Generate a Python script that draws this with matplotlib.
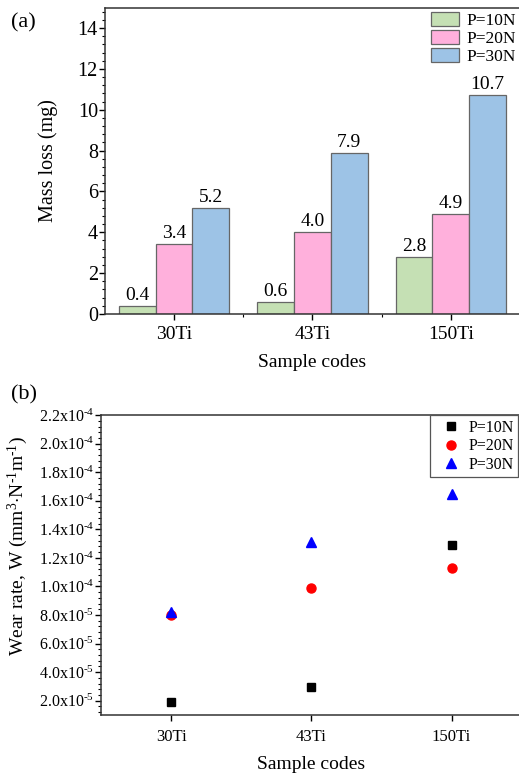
import numpy as np
import matplotlib
matplotlib.use('Agg')
import matplotlib.pyplot as plt
from matplotlib.ticker import AutoMinorLocator, FixedLocator, FuncFormatter

plt.rcParams['font.family'] = ['Liberation Serif', 'DejaVu Serif']
plt.rcParams['mathtext.fontset'] = 'custom'
plt.rcParams['mathtext.rm'] = 'Liberation Serif'
plt.rcParams['mathtext.it'] = 'Liberation Serif:italic'

# 数据
samples = ['30Ti', '43Ti', '150Ti']
loads = ['P=10N', 'P=20N', 'P=30N']
mass_10 = [0.4, 0.6, 2.8]
mass_20 = [3.4, 4.0, 4.9]
mass_30 = [5.2, 7.9, 10.7]
wear_10 = [1.88e-5, 2.97e-5, 1.29e-4]
wear_20 = [8.02e-5, 9.92e-5, 1.13e-4]
wear_30 = [8.20e-5, 1.31e-4, 1.65e-4]

bar_colors = ['#C5E0B4', '#FFB0DC', '#9DC3E6']
edge = '#666666'

fig = plt.figure(figsize=(5.19, 7.73), dpi=100)

# (a) 柱状图
ax1 = fig.add_axes([0.202, 0.594, 0.80, 0.396])
x = np.arange(1, len(samples) + 1)
w = 0.266
for i, (vals, c, lab) in enumerate(zip([mass_10, mass_20, mass_30], bar_colors, loads)):
    bars = ax1.bar(x + (i - 1) * w, vals, w, color=c, edgecolor=edge, linewidth=0.9, label=lab)
    for b, v in zip(bars, vals):
        ax1.text(b.get_x() + b.get_width() / 2, v + 0.1, f'{v:.1f}',
                 ha='center', va='bottom', fontsize=14)
ax1.set_xlim(0.5, 3.5)
ax1.set_ylim(0, 15)
ax1.set_xticks(x)
ax1.set_xticklabels(samples, fontsize=14)
ax1.xaxis.set_minor_locator(FixedLocator([1.5, 2.5]))
ax1.set_yticks(np.arange(0, 15, 2))
ax1.yaxis.set_minor_locator(AutoMinorLocator(5))
ax1.tick_params(axis='y', labelsize=14.5, direction='out', length=4, width=1, pad=1)
ax1.tick_params(axis='x', direction='out', length=4, width=1, pad=5)
ax1.tick_params(which='minor', direction='out', length=2.5, width=0.8)
ax1.spines['right'].set_visible(False)
for s in ['left', 'bottom', 'top']:
    ax1.spines[s].set_color('#333333')
    ax1.spines[s].set_linewidth(1.1)
ax1.set_ylabel('Mass loss (mg)', fontsize=14.5, labelpad=14)
ax1.set_xlabel('Sample codes', fontsize=14, labelpad=8)
ax1.legend(loc='upper right', frameon=False, fontsize=12.5, handlelength=1.6,
           handleheight=0.85, borderpad=0.2, labelspacing=0.05, handletextpad=0.4,
           borderaxespad=0.05, bbox_to_anchor=(1.0, 1.0))
fig.text(0.022, 0.971, '(a)', fontsize=16, va='center')

# (b) 散点图
ax2 = fig.add_axes([0.195, 0.075, 0.81, 0.388])
ax2.plot(x, wear_10, 's', color='black', markersize=6, label=loads[0], linestyle='none')
ax2.plot(x, wear_20, 'o', color='red', markersize=6.5, label=loads[1], linestyle='none')
ax2.plot(x, wear_30, '^', color='blue', markersize=7, label=loads[2], linestyle='none')
ax2.set_xlim(0.5, 3.5)
ax2.set_ylim(1.0e-5, 2.2e-4)
ax2.set_xticks(x)
ax2.set_xticklabels(samples, fontsize=12)
ax2.set_yticks(np.arange(2e-5, 2.21e-4, 2e-5))


def sci_fmt(v, pos):
    m, e = f'{v:.1e}'.split('e')
    return '%sx10$\\mathregular{^{\u2010%d}}$' % (m, abs(int(e)))


ax2.yaxis.set_major_formatter(FuncFormatter(sci_fmt))
ax2.yaxis.set_minor_locator(AutoMinorLocator(5))
ax2.tick_params(axis='y', labelsize=11.5, direction='out', length=4, width=1, pad=1)
ax2.tick_params(axis='x', direction='out', length=4, width=1, pad=6)
ax2.tick_params(which='minor', direction='out', length=2.5, width=0.8)
ax2.spines['right'].set_visible(False)
for s in ['left', 'bottom', 'top']:
    ax2.spines[s].set_color('#333333')
    ax2.spines[s].set_linewidth(1.1)
ax2.set_ylabel('Wear rate, W (mm$\\mathregular{^{3}}$$\\cdot$N$\\mathregular{^{\u20101}}$m$\\mathregular{^{\u20101}}$)',
               fontsize=14)
ax2.yaxis.set_label_coords(-0.17, 0.563)
ax2.set_xlabel('Sample codes', fontsize=14, labelpad=8)
leg = ax2.legend(loc='upper left', bbox_to_anchor=(0.782, 1.0), fontsize=11.5,
                 fancybox=False, edgecolor='#555555', framealpha=1,
                 borderpad=0.3, labelspacing=0.15, handletextpad=0.1,
                 borderaxespad=0.0, handlelength=2.0)
leg.get_frame().set_linewidth(0.9)
fig.text(0.022, 0.489, '(b)', fontsize=16, va='center')

fig.savefig('out.png', dpi=100)
